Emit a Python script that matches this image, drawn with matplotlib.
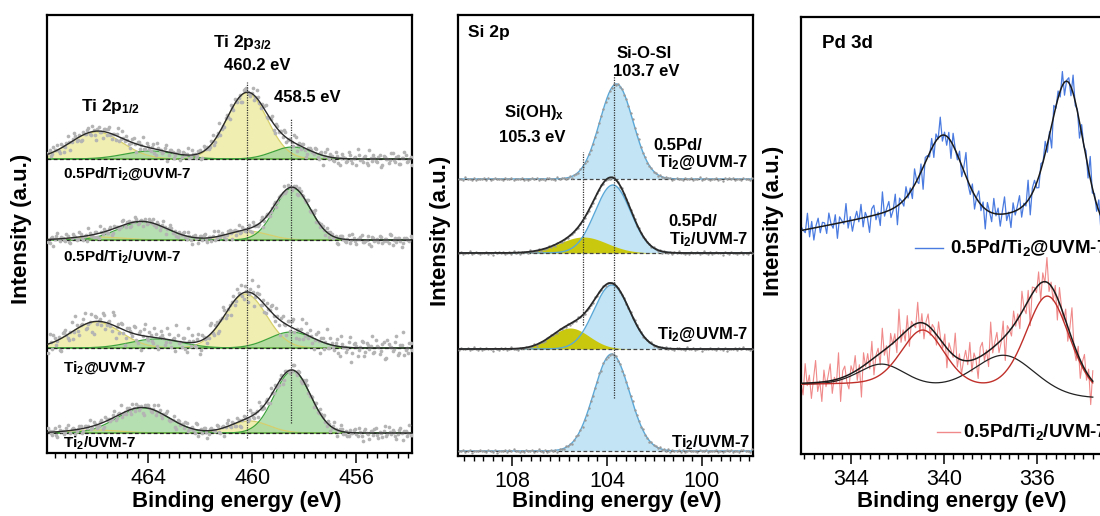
import math

import matplotlib
matplotlib.use("Agg")
import matplotlib.pyplot as plt
import numpy as np
from matplotlib.ticker import MultipleLocator

plt.rcParams["font.family"] = ["Liberation Sans", "DejaVu Sans"]
plt.rcParams["mathtext.fontset"] = "custom"
plt.rcParams["mathtext.rm"] = "Liberation Sans:bold"
plt.rcParams["mathtext.it"] = "Liberation Sans:bold"
plt.rcParams["mathtext.bf"] = "Liberation Sans:bold"
plt.rcParams["mathtext.sf"] = "Liberation Sans:bold"

# residuals (unit scale), reused for every noisy trace
noise = [
    0.3, -0.8, 1.2, 0.1, -0.4, 0.9, -1.5, 0.6, 0.2, -0.2, 1.8, -0.7, 0.4, -1.1, 0.0, 0.8, -0.3, 1.4, -0.9, 0.5,
    -0.1, -1.6, 0.7, 1.0, -0.5, 0.2, -1.2, 2.1, -0.4, 0.3, 0.9, -0.8, -0.2, 1.3, -1.9, 0.6, 0.1, -0.6, 1.1, -0.3,
    0.4, -1.0, 1.6, 0.0, -0.7, 0.8, -2.2, 0.5, 0.2, -0.4, 1.0, -1.3, 0.7, -0.1, 1.9, -0.6, 0.3, -0.9, 0.6, -1.7,
    1.2, 0.1, -0.5, 0.9, -1.1, 0.4, 2.4, -0.3, -0.8, 0.7, -1.4, 0.2, 1.1, -0.6, 0.5, -2.0, 0.8, 0.0, -0.9, 1.5,
    -0.2, 0.6, -1.2, 0.3, 1.7, -0.7, 0.1, -1.5, 0.9, -0.4, 0.4, 1.3, -1.0, 0.2, -0.3, 2.0, -1.8, 0.5, 0.8, -0.5,
    -1.1, 0.6, 0.0, 1.2, -0.8, 0.3, -2.3, 1.0, -0.2, 0.7, -0.6, 1.4, -1.3, 0.1, 0.5, -0.9, 1.8, -0.4, 0.2, -1.6,
    0.9, -0.1, 0.6, -1.0, 2.2, -0.5, 0.3, -0.7, 1.1, -1.4, 0.4, 0.0, -0.3, 1.6, -0.8, 0.7, -1.2, 0.2, 0.9, -0.6, 0.4,
]

# ---- Ti 2p (y in pixel-like units above the axis bottom) ----
TI_XLIM = (467.89, 453.85)
ti_labels = ["0.5Pd/Ti$_2$@UVM-7", "0.5Pd/Ti$_2$/UVM-7", "Ti$_2$@UVM-7", "Ti$_2$/UVM-7"]
ti_label_y = [279, 196, 85, 10]
ti_offset = [294, 213, 105, 20]
# components: (centre eV, height, sigma)
ti_yellow = [
    [(466.0, 27, 1.0), (460.2, 66, 0.78)],
    [(466.0, 3, 1.0), (460.2, 9, 0.8)],
    [(466.0, 26, 0.95), (460.25, 54, 0.8)],
    [(466.1, 3, 1.0), (460.1, 12, 0.75)],
]
ti_green = [
    [(463.9, 8, 1.0), (458.45, 12, 0.75)],
    [(464.2, 18, 0.95), (458.45, 52, 0.68)],
    [(463.7, 9, 1.0), (458.5, 16, 0.85)],
    [(464.2, 25, 1.0), (458.45, 62, 0.7)],
]
ti_noise_amp = [4.0, 3.0, 6.5, 3.5]
ti_noise_shift = [0, 37, 71, 103]
ti_marks_ev = [460.2, 458.5]
ti_marks_span = [(15, 371), (30, 335)]

# ---- Si 2p ----
SI_XLIM = (110.27, 97.85)
si_offset = [277, 203, 107, 5]
si_blue = [(103.6, 95, 0.7), (103.75, 68, 0.75), (103.8, 64, 0.75), (103.8, 97, 0.75)]
si_yellow = [None, (105.0, 16, 1.0), (105.55, 21, 0.8), None]
si_marks_ev = [103.7, 105.0]
si_marks_span = [(58, 381), (131, 304)]

# ---- Pd 3d ----
PD_XLIM = (346.15, 332.86)
pd_blue_peaks = [(339.96, 82, 0.85), (334.67, 148, 0.74)]
pd_blue_bg = (208, 70, -4.3)  # base, Shirley step, slope per eV
pd_red_pd0 = [(340.9, 57, 0.95), (335.53, 99, 0.95)]
pd_red_pd2 = [(342.67, 21, 1.0), (337.4, 36, 1.3)]
pd_red_bg = (55, 14, 0.0)


def gauss(x, c, h, s):
    return h * np.exp(-((x - c) ** 2) / (2 * s * s))


def pvoigt(x, c, h, s, eta=0.25):
    g = np.exp(-((x - c) ** 2) / (2 * s * s))
    lor = 1.0 / (1.0 + ((x - c) / (1.1774 * s)) ** 2)
    return h * ((1 - eta) * g + eta * lor)


def shirley(x, peaks, base, step, slope):
    erf = np.vectorize(math.erf)
    num = np.zeros_like(x)
    tot = 0.0
    for c, h, s in peaks:
        num += h * s * 0.5 * (1 + erf((x - c) / (s * math.sqrt(2))))
        tot += h * s
    return base + step * num / tot + slope * (x - 333.3)


def style_axis(ax, xlim, ylim):
    ax.set_xlim(*xlim)
    ax.set_ylim(*ylim)
    ax.set_yticks([])
    ax.xaxis.set_major_locator(MultipleLocator(4))
    ax.xaxis.set_minor_locator(MultipleLocator(0.4))
    ax.tick_params(axis="x", which="major", direction="out", length=7, width=1.1, labelsize=15.5, pad=4)
    ax.tick_params(axis="x", which="minor", direction="out", length=3.5, width=1.0)
    for sp in ax.spines.values():
        sp.set_linewidth(1.6)


fig = plt.figure(figsize=(11, 5.16), dpi=100)
ax1 = fig.add_axes([47 / 1100, 63 / 516, 365 / 1100, 438 / 516])
ax2 = fig.add_axes([458 / 1100, 60 / 516, 295 / 1100, 441 / 516])
ax3 = fig.add_axes([801 / 1100, 62 / 516, 309 / 1100, 437 / 516])

# ---------------- Ti 2p ----------------
x = np.linspace(TI_XLIM[0], TI_XLIM[1], 400)
xs = np.linspace(TI_XLIM[0] - 0.05, TI_XLIM[1] + 0.05, len(noise))
half = (xs[1] - xs[0]) / 2
for i in range(4):
    off = ti_offset[i]
    env = np.zeros_like(x)
    env_s = np.zeros_like(xs)
    env_s2 = np.zeros_like(xs)
    for c, h, s in ti_yellow[i]:
        y = gauss(x, c, h, s)
        env += y
        env_s += gauss(xs, c, h, s)
        env_s2 += gauss(xs + half, c, h, s)
        ax1.fill_between(x, off, off + y, color="#eeeca2", alpha=0.85, lw=0, zorder=1)
        ax1.plot(x, off + y, color="#d6cf6c", lw=0.9, zorder=2)
    for c, h, s in ti_green[i]:
        y = gauss(x, c, h, s)
        env += y
        env_s += gauss(xs, c, h, s)
        env_s2 += gauss(xs + half, c, h, s)
        ax1.fill_between(x, off, off + y, color="#a3d79c", alpha=0.8, lw=0, zorder=1)
        ax1.plot(x, off + y, color="#3da33d", lw=0.9, zorder=2)
    ax1.axhline(off, color="#222222", lw=0.9, ls=(0, (3, 2)), zorder=2.5)
    res = np.roll(np.array(noise), ti_noise_shift[i]) * ti_noise_amp[i]
    res2 = np.roll(np.array(noise), ti_noise_shift[i] + 53) * ti_noise_amp[i]
    ax1.scatter(xs, off + env_s + res, s=7, color="#b4b4b4", lw=0, zorder=3)
    ax1.scatter(xs + half, off + env_s2 + res2, s=7, color="#b4b4b4", lw=0, zorder=3)
    ax1.plot(x, off + env, color="#2a2a2a", lw=1.0, zorder=4)
    ax1.text(467.27, ti_label_y[i], ti_labels[i], fontsize=11, fontweight="bold", va="center", ha="left")

for ev, (y0, y1) in zip(ti_marks_ev, ti_marks_span):
    ax1.plot([ev, ev], [y0, y1], color="#333333", lw=0.9, ls=(0, (1, 1)), zorder=5)

ax1.text(460.35, 410, "Ti 2p$_{3/2}$", fontsize=12.5, fontweight="bold", ha="center", va="center")
ax1.text(459.8, 387, "460.2 eV", fontsize=12, fontweight="bold", ha="center", va="center")
ax1.text(457.88, 356, "458.5 eV", fontsize=12, fontweight="bold", ha="center", va="center")
ax1.text(465.46, 346, "Ti 2p$_{1/2}$", fontsize=12.5, fontweight="bold", ha="center", va="center")
style_axis(ax1, TI_XLIM, (0, 438))

# ---------------- Si 2p ----------------
x = np.linspace(SI_XLIM[0] - 0.05, SI_XLIM[1] + 0.05, 500)
xs = np.linspace(SI_XLIM[0] - 0.05, SI_XLIM[1] + 0.05, len(noise))
for i in range(4):
    off = si_offset[i]
    c, h, s = si_blue[i]
    yb = gauss(x, c, h, s)
    env = yb.copy()
    env_s = gauss(xs, c, h, s)
    ax2.fill_between(x, off, off + yb, color="#c2e4f4", lw=0, zorder=1)
    ax2.plot(x, off + yb, color="#5aa8d8", lw=1.0, zorder=2)
    if si_yellow[i] is not None:
        c, h, s = si_yellow[i]
        yy = gauss(x, c, h, s)
        env += yy
        env_s += gauss(xs, c, h, s)
        ax2.fill_between(x, off, off + yy, color="#c9c80e", lw=0, zorder=1.5)
        ax2.plot(x, off + env, color="#2a2a2a", lw=1.3, zorder=4)
    ax2.axhline(off, color="#444444", lw=0.9, ls=(0, (3, 2)), zorder=2.5)
    res = np.roll(np.array(noise), 20 + 31 * i) * 0.8
    ax2.scatter(xs, off + env_s + res, s=3, color="#9a9a9a", lw=0, zorder=3)

for ev, (y0, y1) in zip(si_marks_ev, si_marks_span):
    ax2.plot([ev, ev], [y0, y1], color="#333333", lw=0.9, ls=(0, (1, 1)), zorder=5)

ax2.text(109.85, 424, "Si 2p", fontsize=12.5, fontweight="bold", ha="left", va="center")
ax2.text(103.58, 403, "Si-O-SI", fontsize=12, fontweight="bold", ha="left", va="center")
ax2.text(103.75, 384, "103.7 eV", fontsize=12, fontweight="bold", ha="left", va="center")
ax2.text(107.07, 344, "Si(OH)$_x$", fontsize=12, fontweight="bold", ha="center", va="center")
ax2.text(107.16, 319, "105.3 eV", fontsize=12, fontweight="bold", ha="center", va="center")
ax2.text(102.06, 311, "0.5Pd/", fontsize=12, fontweight="bold", ha="left", va="center")
ax2.text(98.06, 293, "Ti$_2$@UVM-7", fontsize=12, fontweight="bold", ha="right", va="center")
ax2.text(101.43, 234, "0.5Pd/", fontsize=12, fontweight="bold", ha="left", va="center")
ax2.text(98.06, 216, "Ti$_2$/UVM-7", fontsize=12, fontweight="bold", ha="right", va="center")
ax2.text(98.06, 121, "Ti$_2$@UVM-7", fontsize=12, fontweight="bold", ha="right", va="center")
ax2.text(97.94, 13, "Ti$_2$/UVM-7", fontsize=12, fontweight="bold", ha="right", va="center")
style_axis(ax2, SI_XLIM, (0, 441))

# ---------------- Pd 3d ----------------
xb = np.linspace(PD_XLIM[0], 333.25, len(noise))
xf = np.linspace(PD_XLIM[0], 333.25, 500)
bg_b = shirley(xf, pd_blue_peaks, *pd_blue_bg)
bg_bs = shirley(xb, pd_blue_peaks, *pd_blue_bg)
fit_b = bg_b + sum(pvoigt(xf, *p) for p in pd_blue_peaks)
fit_bs = bg_bs + sum(pvoigt(xb, *p) for p in pd_blue_peaks)
ax3.plot(xb, fit_bs + np.roll(np.array(noise), 11) * 10.0, color="#4a7be0", lw=0.9, zorder=2)
ax3.plot(xf, fit_b, color="#1a1a1a", lw=1.1, zorder=3)

red_all = pd_red_pd0 + pd_red_pd2
xr = np.linspace(PD_XLIM[0], 333.6, len(noise))
xg = np.linspace(PD_XLIM[0], 333.6, 500)
bg_r = shirley(xg, red_all, *pd_red_bg)
bg_rs = shirley(xr, red_all, *pd_red_bg)
pd0 = sum(pvoigt(xg, *p) for p in pd_red_pd0)
pd2 = sum(pvoigt(xg, *p) for p in pd_red_pd2)
fit_rs = bg_rs + sum(pvoigt(xr, *p) for p in red_all)
ax3.plot(xr, fit_rs + np.roll(np.array(noise), 64) * 13.0, color="#f08a8a", lw=0.8, zorder=2)
ax3.plot(xg, bg_r + pd2, color="#222222", lw=0.9, zorder=3)
ax3.plot(xg, bg_r + pd0, color="#c0302a", lw=1.0, zorder=3)
ax3.plot(xg, bg_r + pd0 + pd2, color="#1a1a1a", lw=1.1, zorder=4)

ax3.text(0.068, 0.94, "Pd 3d", transform=ax3.transAxes, fontsize=13.5, fontweight="bold", ha="left", va="center")
ax3.plot([0.369, 0.46], [0.471, 0.471], transform=ax3.transAxes, color="#4a7be0", lw=1.0)
ax3.text(0.482, 0.471, "0.5Pd/Ti$_2$@UVM-7", transform=ax3.transAxes, fontsize=13.5, fontweight="bold",
         ha="left", va="center")
ax3.plot([0.44, 0.515], [0.05, 0.05], transform=ax3.transAxes, color="#f08a8a", lw=1.0)
ax3.text(0.524, 0.05, "0.5Pd/Ti$_2$/UVM-7", transform=ax3.transAxes, fontsize=13.5, fontweight="bold",
         ha="left", va="center")
style_axis(ax3, PD_XLIM, (0, 437))

# axis titles placed as figure text
for xc in (237, 617, 962):
    fig.text(xc / 1100, 1 - 501 / 516, "Binding energy (eV)", fontsize=16, fontweight="bold",
             ha="center", va="center")
for xc, yc in ((22, 229), (441, 231), (773, 221)):
    fig.text(xc / 1100, 1 - yc / 516, "Intensity (a.u.)", fontsize=16, fontweight="bold",
             rotation=90, ha="center", va="center")

fig.savefig("out.png", dpi=100)
